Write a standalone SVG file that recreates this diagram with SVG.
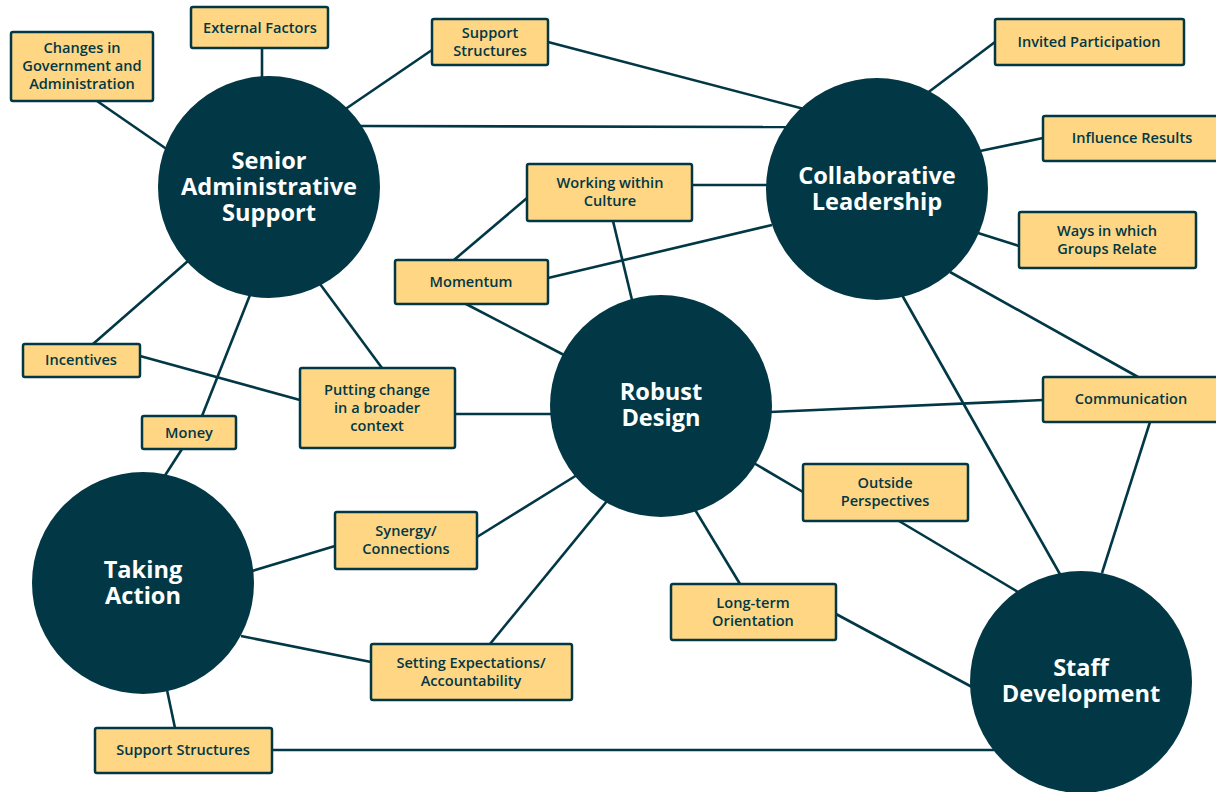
<svg xmlns="http://www.w3.org/2000/svg" width="1216" height="792" viewBox="0 0 1216 792">
<style>
.c{fill:#023845}
.ct{fill:#fff;font-family:"Open Sans","Noto Sans",sans-serif;font-weight:700;font-size:23.6px;text-anchor:middle;dominant-baseline:central}
.b{fill:#FED684;stroke:#023845;stroke-width:2.5}
.bt{fill:#023845;font-family:"Open Sans","Noto Sans",sans-serif;font-weight:600;font-size:14.6px;text-anchor:middle;dominant-baseline:central}
#connectors line{stroke:#023845;stroke-width:2.6;fill:none}
</style>
<rect width="1216" height="792" fill="#fff"/>
<g id="connectors">
<line x1="97" y1="101" x2="168" y2="150"/>
<line x1="262" y1="48" x2="262" y2="80"/>
<line x1="432" y1="50" x2="344" y2="110"/>
<line x1="360" y1="126" x2="792" y2="127"/>
<line x1="548" y1="42" x2="808" y2="110"/>
<line x1="995" y1="42" x2="926" y2="94"/>
<line x1="1043" y1="138" x2="980" y2="151"/>
<line x1="1019" y1="246" x2="978" y2="233"/>
<line x1="692" y1="185" x2="768" y2="185"/>
<line x1="548" y1="278" x2="772" y2="225"/>
<line x1="527" y1="198" x2="454" y2="260"/>
<line x1="613" y1="221" x2="632" y2="300"/>
<line x1="466" y1="304" x2="564" y2="355"/>
<line x1="188" y1="261" x2="93" y2="344"/>
<line x1="250" y1="295" x2="202" y2="416"/>
<line x1="320" y1="284" x2="382" y2="368"/>
<line x1="140" y1="356" x2="300" y2="400"/>
<line x1="455" y1="414" x2="552" y2="414"/>
<line x1="182" y1="449" x2="164" y2="477"/>
<line x1="770" y1="412" x2="1043" y2="400"/>
<line x1="950" y1="272" x2="1138" y2="377"/>
<line x1="902" y1="295" x2="1061" y2="576"/>
<line x1="1150" y1="422" x2="1102" y2="573"/>
<line x1="752" y1="462" x2="803" y2="492"/>
<line x1="899" y1="521" x2="1018" y2="592"/>
<line x1="694" y1="508" x2="740" y2="584"/>
<line x1="836" y1="614" x2="972" y2="687"/>
<line x1="577" y1="475" x2="477" y2="537"/>
<line x1="335" y1="546" x2="252" y2="571"/>
<line x1="607" y1="501" x2="490" y2="644"/>
<line x1="241" y1="636" x2="371" y2="662"/>
<line x1="167" y1="690" x2="175" y2="728"/>
<line x1="272" y1="750" x2="994" y2="750"/>
</g>
<g id="changes-government"><rect class="b" x="11" y="32" width="142" height="69" rx="2"/><text class="bt" x="82" y="47">Changes in</text><text class="bt" x="82" y="65">Government and</text><text class="bt" x="82" y="83">Administration</text></g>
<g id="external-factors"><rect class="b" x="191" y="7" width="137" height="41" rx="2"/><text class="bt" x="260" y="27">External Factors</text></g>
<g id="support-structures-top"><rect class="b" x="432" y="19" width="116" height="46" rx="2"/><text class="bt" x="490" y="32">Support</text><text class="bt" x="490" y="50">Structures</text></g>
<g id="invited-participation"><rect class="b" x="995" y="19" width="189" height="46" rx="2"/><text class="bt" x="1089" y="41">Invited Participation</text></g>
<g id="influence-results"><rect class="b" x="1043" y="116" width="175" height="45" rx="2"/><text class="bt" x="1132" y="137">Influence Results</text></g>
<g id="ways-groups-relate"><rect class="b" x="1019" y="212" width="177" height="56" rx="2"/><text class="bt" x="1107" y="230">Ways in which</text><text class="bt" x="1107" y="248">Groups Relate</text></g>
<g id="working-within-culture"><rect class="b" x="527" y="164" width="165" height="57" rx="2"/><text class="bt" x="610" y="182">Working within</text><text class="bt" x="610" y="200">Culture</text></g>
<g id="momentum"><rect class="b" x="395" y="260" width="153" height="44" rx="2"/><text class="bt" x="471" y="281">Momentum</text></g>
<g id="incentives"><rect class="b" x="23" y="344" width="117" height="33" rx="2"/><text class="bt" x="81" y="359">Incentives</text></g>
<g id="putting-change"><rect class="b" x="300" y="368" width="155" height="80" rx="2"/><text class="bt" x="377" y="389">Putting change</text><text class="bt" x="377" y="407">in a broader</text><text class="bt" x="377" y="425">context</text></g>
<g id="money"><rect class="b" x="142" y="416" width="94" height="33" rx="2"/><text class="bt" x="189" y="432">Money</text></g>
<g id="communication"><rect class="b" x="1043" y="377" width="175" height="45" rx="2"/><text class="bt" x="1131" y="398">Communication</text></g>
<g id="outside-perspectives"><rect class="b" x="803" y="464" width="165" height="57" rx="2"/><text class="bt" x="885" y="482">Outside</text><text class="bt" x="885" y="500">Perspectives</text></g>
<g id="synergy-connections"><rect class="b" x="335" y="512" width="142" height="57" rx="2"/><text class="bt" x="406" y="530">Synergy/</text><text class="bt" x="406" y="548">Connections</text></g>
<g id="long-term-orientation"><rect class="b" x="671" y="584" width="165" height="56" rx="2"/><text class="bt" x="753" y="602">Long-term</text><text class="bt" x="753" y="620">Orientation</text></g>
<g id="setting-expectations"><rect class="b" x="371" y="644" width="201" height="56" rx="2"/><text class="bt" x="471" y="662">Setting Expectations/</text><text class="bt" x="471" y="680">Accountability</text></g>
<g id="support-structures-bottom"><rect class="b" x="95" y="728" width="177" height="45" rx="2"/><text class="bt" x="183" y="749">Support Structures</text></g>
<g id="senior-administrative-support"><circle class="c" cx="269" cy="187" r="111"/><text class="ct" x="269" y="160">Senior</text><text class="ct" x="269" y="186">Administrative</text><text class="ct" x="269" y="212">Support</text></g>
<g id="collaborative-leadership"><circle class="c" cx="877" cy="189" r="111"/><text class="ct" x="877" y="175">Collaborative</text><text class="ct" x="877" y="201">Leadership</text></g>
<g id="robust-design"><circle class="c" cx="661" cy="406" r="111"/><text class="ct" x="661" y="391">Robust</text><text class="ct" x="661" y="417">Design</text></g>
<g id="taking-action"><circle class="c" cx="143" cy="583" r="111"/><text class="ct" x="143" y="569">Taking</text><text class="ct" x="143" y="595">Action</text></g>
<g id="staff-development"><circle class="c" cx="1081" cy="682" r="111"/><text class="ct" x="1081" y="667">Staff</text><text class="ct" x="1081" y="693">Development</text></g>
</svg>
